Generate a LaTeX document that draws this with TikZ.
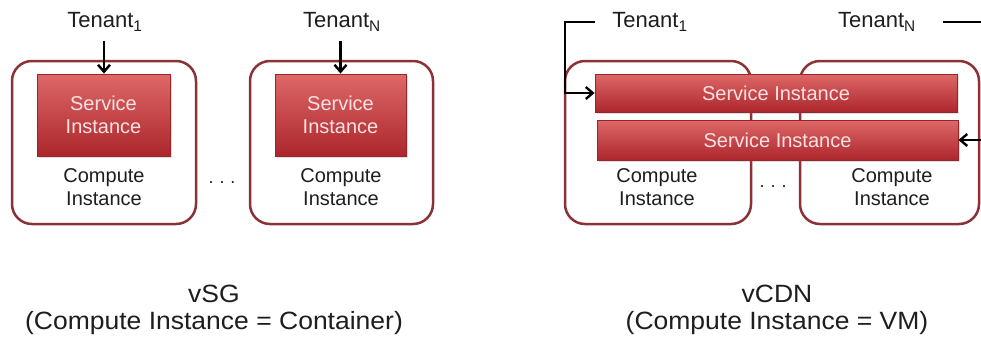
\documentclass[tikz,border=0pt]{standalone}
\usepackage{fontspec}
\setmainfont{Liberation Sans}
\newfontfamily\widefont[FakeStretch=1.06]{Liberation Sans}
\usetikzlibrary{arrows.meta,shadows}
\definecolor{cborder}{RGB}{140,50,55}
\definecolor{svtop}{RGB}{222,104,104}
\definecolor{svbot}{RGB}{172,38,44}
\definecolor{svline}{RGB}{155,36,42}
\definecolor{svtext}{RGB}{252,226,226}
\definecolor{txt}{RGB}{30,30,30}
\tikzset{
  compute/.style={draw=cborder, line width=2.5pt, rounded corners=20pt, inner sep=0pt},
  svc/.style={draw=svline, line width=0.8pt, top color=svtop, bottom color=svbot,
    inner sep=0pt, text=svtext, align=center, font=\fontsize{20}{23}\selectfont,
    drop shadow={shadow xshift=1.5pt, shadow yshift=-1.5pt, opacity=0.25}},
  ctext/.style={text=txt, align=center, font=\fontsize{20}{23}\selectfont, inner sep=0pt},
  tlabel/.style={text=txt, font=\fontsize{22}{26}\selectfont, inner sep=0pt},
  blabel/.style={text=txt, align=center, font=\widefont\fontsize{25}{29}\selectfont, inner sep=0pt},
  dots/.style={text=txt, font=\fontsize{18}{20}\selectfont, inner sep=0pt},
  arr/.style={line width=2.6pt, draw=black, -{Straight Barb[length=7pt,width=12pt,line width=2.4pt]}}
}
\begin{document}
\begin{tikzpicture}[x=1pt,y=-1pt]
\useasboundingbox (0,0) rectangle (981,337);
\clip (0,0) rectangle (981,337);
\fill[white] (0,0) rectangle (981,337);

% ---------- left: vSG ----------
\node[compute, minimum width=184pt, minimum height=163pt] (cl1) at (104,142.5) {};
\node[compute, minimum width=183pt, minimum height=163pt] (cl2) at (341.5,142.5) {};
\node[svc, minimum width=133pt, minimum height=82pt] (sl1) at (103.5,115) {Service\\Instance};
\node[svc, minimum width=131pt, minimum height=82pt] (sl2) at (340.5,115) {Service\\Instance};
\node[ctext] (ctl1) at (104,187) {Compute\\Instance};
\node[ctext] (ctl2) at (341,187) {Compute\\Instance};
\node[dots] (dl) at (222,183) {.\hspace{6pt}.\hspace{6pt}.};
\node[tlabel] (tl1) at (105,22) {Tenant\textsubscript{1}};
\node[tlabel] (tl2) at (342,22) {Tenant\textsubscript{N}};
\coordinate (al1) at (104,41);
\coordinate (al2) at (340.5,41);
\draw[arr] (al1) -- (al1 |- sl1.north);
\draw[arr] (al2) -- (al2 |- sl2.north);
\node[blabel] (bl1) at (214,294) {vSG};
\node[blabel] (bl2) at (214,323) {(Compute Instance = Container)};

% ---------- right: vCDN ----------
\node[compute, minimum width=186pt, minimum height=163pt] (cr1) at (658,142.5) {};
\node[compute, minimum width=179pt, minimum height=163pt] (cr2) at (889.5,142.5) {};
\node[svc, minimum width=362pt, minimum height=38pt] (sr1) at (776,93) {Service Instance};
\node[svc, minimum width=361pt, minimum height=40pt] (sr2) at (777.5,140) {Service Instance};
\node[ctext] (ctr1) at (657,187) {Compute\\Instance};
\node[ctext] (ctr2) at (892,187) {Compute\\Instance};
\node[dots] (dr) at (773,187) {.\hspace{6pt}.\hspace{6pt}.};
\node[tlabel] (tr1) at (650,22) {Tenant\textsubscript{1}};
\node[tlabel] (tr2) at (877,22) {Tenant\textsubscript{N}};
\coordinate (ar1a) at (595,22);
\coordinate (ar1b) at (565,22);
\draw[arr] (ar1a) -- (ar1b) |- (sr1.west);
\coordinate (ar2a) at (943,22);
\coordinate (ar2b) at (992,22);
\draw[arr] (ar2a) -- (ar2b) |- (sr2.east);
\node[blabel] (br1) at (777,294) {vCDN};
\node[blabel] (br2) at (777,323) {(Compute Instance = VM)};
\end{tikzpicture}
\end{document}
